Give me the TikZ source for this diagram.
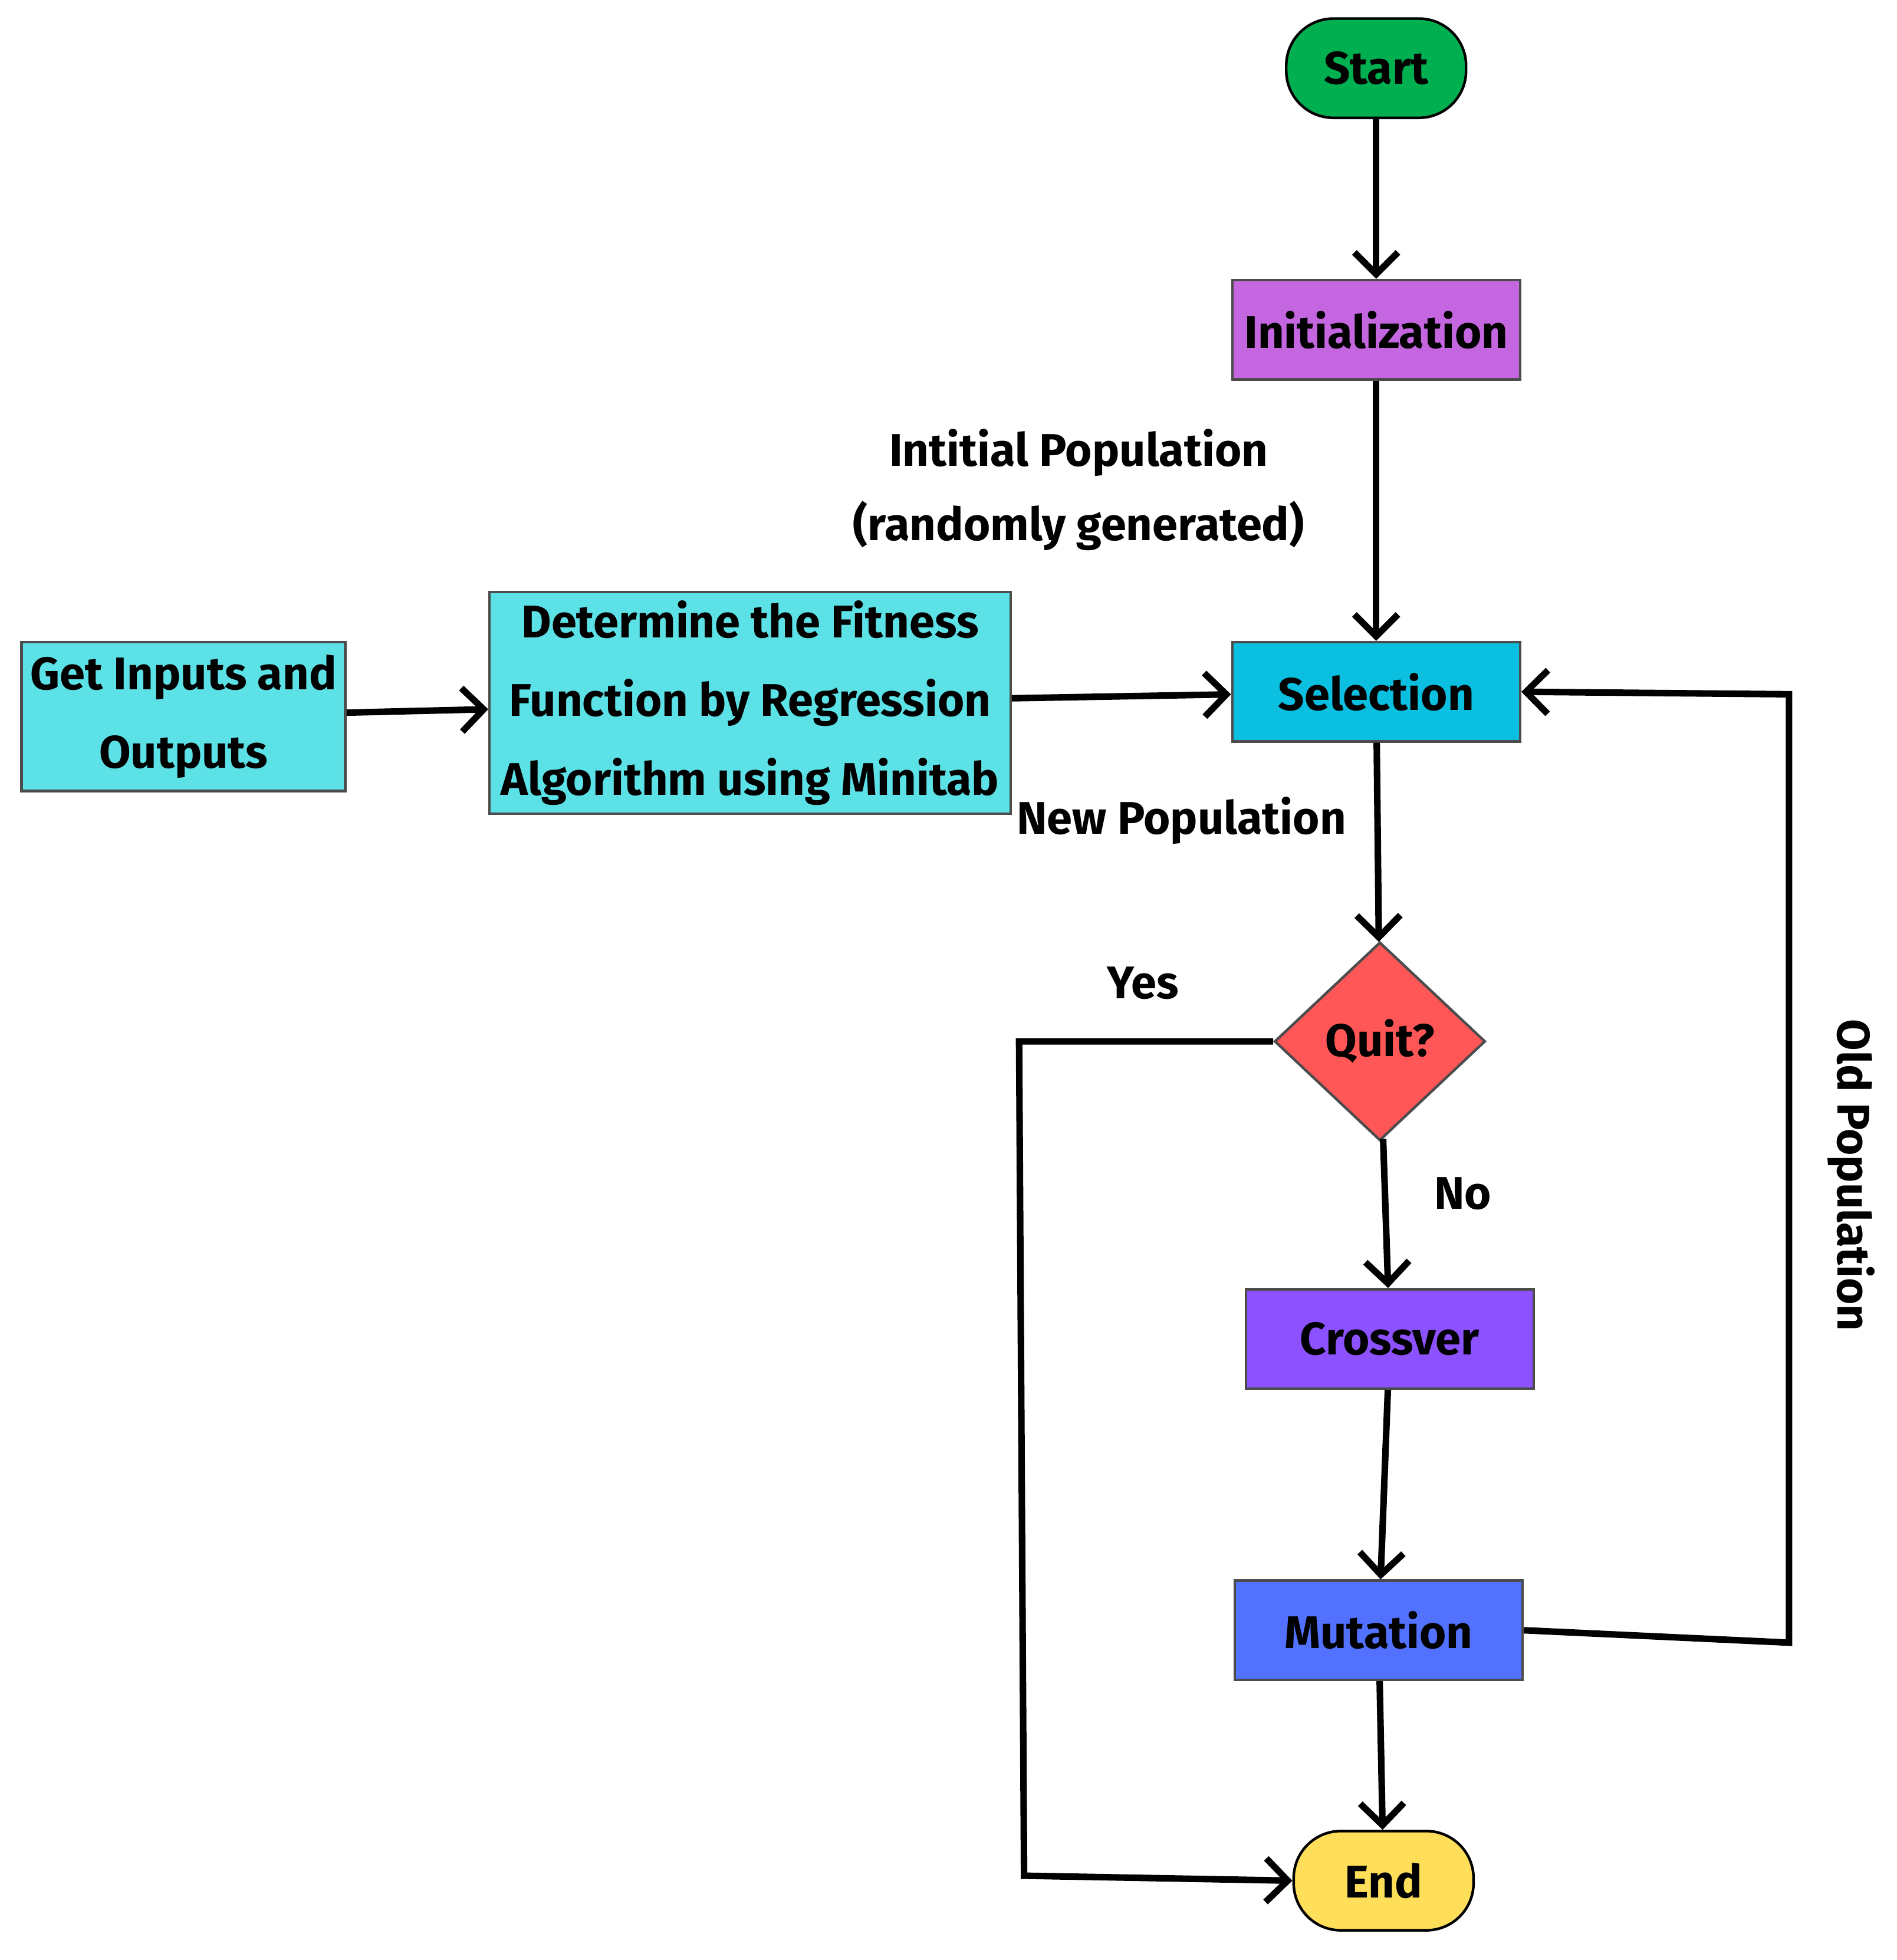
\documentclass[tikz,border=0pt]{standalone}
\usepackage{fontspec}
\setmainfont{Fira Sans}
\usetikzlibrary{shapes.geometric,arrows.meta}
\definecolor{cStart}{HTML}{00B050}
\definecolor{cInit}{HTML}{C466E0}
\definecolor{cSel}{HTML}{0ABFDF}
\definecolor{cFit}{HTML}{5CE1E6}
\definecolor{cQuit}{HTML}{FF5757}
\definecolor{cCross}{HTML}{8C52FF}
\definecolor{cMut}{HTML}{5271FF}
\definecolor{cEnd}{HTML}{FFDE59}
\begin{document}
\begin{tikzpicture}[x=0.01cm,y=-0.01cm,
  every node/.style={font=\fontsize{10.5}{14}\selectfont\bfseries},
  box/.style={draw=black!70,line width=0.6pt,minimum width=2.32cm,minimum height=0.8cm,inner sep=2pt,align=center},
  term/.style={box,rounded corners=0.38cm,minimum width=1.45cm,draw=black},
  arr/.style={line width=1.5pt,-{Straight Barb[length=5pt,width=10pt]}},
  lbl/.style={align=center}]
\useasboundingbox (0,0) rectangle (1530,1581);
\node[term,fill=cStart] (start) at (1110,55) {Start};
\node[box,fill=cInit] (init) at (1110,266) {Initialization};
\node[box,fill=cSel] (sel) at (1110,558) {Selection};
\node[box,fill=cFit,minimum width=2.6cm,minimum height=1.2cm,font=\fontsize{10.5}{18}\selectfont\bfseries] (get) at (148,578) {Get Inputs and\\Outputs};
\node[box,fill=cFit,minimum width=4.2cm,minimum height=1.7cm,font=\fontsize{10.5}{18}\selectfont\bfseries] (fit) at (605,567) {Determine the Fitness\\Function by Regression\\Algorithm using Minitab};
\node[diamond,draw=black!70,line width=0.6pt,fill=cQuit,minimum width=1.7cm,minimum height=1.6cm,inner sep=0pt] (quit) at (1113,840) {Quit?};
\node[box,fill=cCross] (cross) at (1121,1080) {Crossver};
\node[box,fill=cMut] (mut) at (1112,1315) {Mutation};
\node[term,fill=cEnd] (end) at (1116,1517) {End};
\node[lbl,font=\fontsize{10.5}{17}\selectfont\bfseries] (l1) at (870,395) {Intitial Population\\(randomly generated)};
\node[lbl] (l2) at (953,662) {New Population};
\node[lbl] (l3) at (922,793) {Yes};
\node[lbl] (l4) at (1180,963) {No};
\node[lbl,rotate=-90] (l5) at (1493,948) {Old Population};
\coordinate (o1) at (1443,1325);
\coordinate (o2) at (1443,560);
\coordinate (y1) at (822,840);
\coordinate (y2) at (826,1513);
\draw[arr] (start) -- (init);
\draw[arr] (init) -- (sel);
\draw[arr] (get) -- (fit);
\draw[arr] (fit) -- (sel);
\draw[arr] (sel) -- (quit);
\draw[arr] (quit) -- (cross);
\draw[arr] (cross) -- (mut);
\draw[arr] (mut) -- (end);
\draw[arr] (mut.east) -- (o1) -- (o2) -- (sel.east);
\draw[arr] (quit.west) -- (y1) -- (y2) -- (end.west);
\end{tikzpicture}
\end{document}
